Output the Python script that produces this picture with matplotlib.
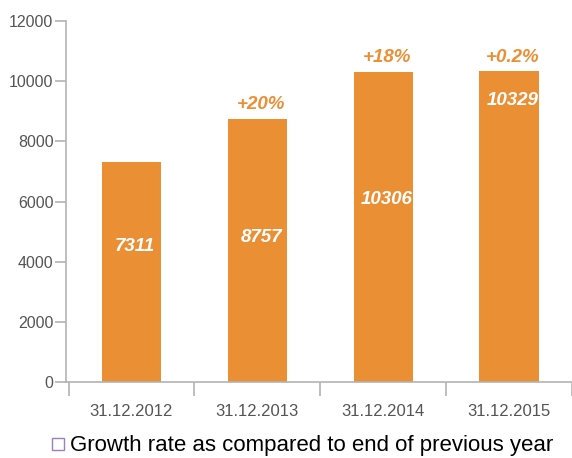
import matplotlib.pyplot as plt
from matplotlib.lines import Line2D

# values
dates = ['31.12.2012', '31.12.2013', '31.12.2014', '31.12.2015']
values = [7311, 8757, 10306, 10329]
growth = ['', '+20%', '+18%', '+0.2%']
# where the white value labels sit inside each bar (data units)
label_y = [4520, 4790, 6080, 9370]

orange = '#EB8F35'
grey = '#b3b3b3'
txt = '#555555'
sans = ['Liberation Sans', 'DejaVu Sans']

fig = plt.figure(figsize=(5.72, 4.58), dpi=100)
ax = fig.add_axes([66 / 572, 1 - 382 / 458, 506 / 572, 361 / 458])

x = range(len(dates))
ax.bar(x, values, width=0.47, color=orange, zorder=2)

for i, v in enumerate(values):
    ax.text(i + 0.03, label_y[i], str(v), ha='center', va='center', color='white',
            fontsize=13.5, fontweight='bold', style='italic', family=sans)
    if growth[i]:
        ax.annotate(growth[i], (i + 0.03, v), xytext=(0, 4), textcoords='offset points',
                    ha='center', va='bottom', color=orange, fontsize=13.5,
                    fontweight='bold', style='italic', family=sans)

ax.set_ylim(0, 12000)
ax.set_xlim(-0.52, 3.49)
ax.set_yticks(range(0, 12001, 2000))
ax.set_xticks(x)
ax.set_xticklabels(dates)
ax.set_xticks([-0.5, 0.5, 1.5, 2.5, 3.5], minor=True)

for s in ['top', 'right']:
    ax.spines[s].set_visible(False)
for s in ['left', 'bottom']:
    ax.spines[s].set_color(grey)
    ax.spines[s].set_linewidth(1.2)

ax.tick_params(axis='y', colors=grey, labelcolor=txt, length=8, width=1.2,
               labelsize=11.5, pad=1)
ax.tick_params(axis='x', which='major', length=0, labelcolor=txt,
               labelsize=12, pad=16)
ax.tick_params(axis='x', which='minor', length=10, width=1.2, color=grey)
for lab in ax.get_xticklabels() + ax.get_yticklabels():
    lab.set_family(sans)

handle = Line2D([], [], marker='s', linestyle='none', markersize=9,
                markerfacecolor='white', markeredgecolor='#9b7fbf', markeredgewidth=1)
fig.legend([handle], ['Growth rate as compared to end of previous year'],
           loc='center', bbox_to_anchor=(0.527, 1 - 446 / 458), frameon=False,
           handlelength=0.7, handletextpad=0.2,
           prop={'family': sans, 'size': 16})

plt.savefig('out.png', dpi=100)
